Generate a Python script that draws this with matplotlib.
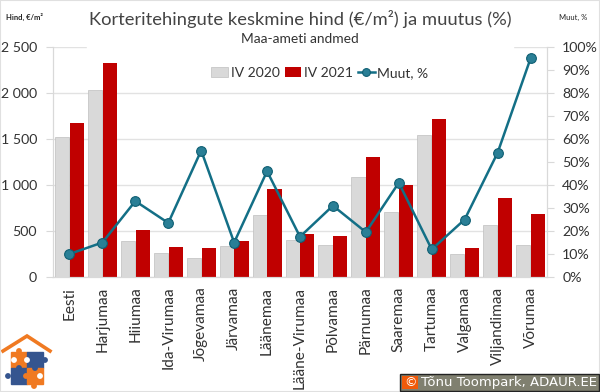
import matplotlib
matplotlib.use("Agg")
import matplotlib.pyplot as plt
import matplotlib.patches as mpatches
import numpy as np
from matplotlib.ticker import FuncFormatter

plt.rcParams['font.family'] = ['Lato', 'DejaVu Sans']

# Data
counties = ["Eesti", "Harjumaa", "Hiiumaa", "Ida-Virumaa", "Jõgevamaa", "Järvamaa", "Läänemaa",
            "Lääne-Virumaa", "Põlvamaa", "Pärnumaa", "Saaremaa", "Tartumaa", "Valgamaa",
            "Viljandimaa", "Võrumaa"]
iv_2020 = [1520, 2030, 390, 260, 210, 340, 670, 400, 350, 1090, 710, 1540, 245, 560, 350]
iv_2021 = [1670, 2330, 510, 330, 310, 390, 960, 470, 450, 1300, 1000, 1720, 310, 860, 680]
muut = [10, 15, 33, 23.5, 55, 15, 46, 17.5, 31, 19.5, 41, 12, 25, 54, 95]

W, H = 600, 392
fig = plt.figure(figsize=(W / 100, H / 100), dpi=100)
ax1 = fig.add_axes([53 / W, 1 - 277 / H, 494 / W, 230 / H])
x = np.arange(len(counties))

ax1.set_axisbelow(True)
ax1.grid(axis='y', color='#e2e2e2', lw=1)
ax1.bar(x - 0.225, iv_2020, 0.43, color='#d9d9d9', edgecolor='#bfbfbf', lw=0.5, label='IV 2020')
ax1.bar(x + 0.225, iv_2021, 0.43, color='#c00000', label='IV 2021')
ax1.set_xlim(-0.5, 14.5)
ax1.set_ylim(0, 2500)
ax1.set_yticks(range(0, 2501, 500))
ax1.yaxis.set_major_formatter(FuncFormatter(lambda v, p: f"{int(v):,}".replace(",", " ")))
ax1.set_xticks(x)
ax1.set_xticklabels(counties, rotation=90, fontsize=11.1, color='#333333')
ax1.tick_params(axis='x', length=0, pad=7)
ax1.tick_params(axis='y', length=5, color='#d9d9d9', labelsize=10.2, labelcolor='#333333', pad=6.5)

ax2 = ax1.twinx()
line, = ax2.plot(x, muut, color='#136f86', lw=1.8, marker='o', ms=7, mfc='#2a7f96', mec='#0f5f73',
                 mew=0.8, label='Muut, %')
ax2.set_ylim(0, 100)
ax2.set_yticks(range(0, 101, 10))
ax2.yaxis.set_major_formatter(FuncFormatter(lambda v, p: f"{int(v)}%"))
ax2.tick_params(axis='y', length=5, color='#d9d9d9', labelsize=10.2, labelcolor='#333333', pad=6)

for a in (ax1, ax2):
    a.spines['top'].set_visible(False)
    a.spines['left'].set_color('#d9d9d9')
    a.spines['right'].set_color('#d9d9d9')
    a.spines['bottom'].set_color('#d9d9d9')

# title area hides the top gridline
ax1.add_patch(mpatches.Rectangle((87 / W, 1 - 50 / H), 426 / W, 6 / H, transform=fig.transFigure,
                                 color='white', zorder=1.5, clip_on=False))

h1, l1 = ax1.get_legend_handles_labels()
fig.legend(h1 + [line], l1 + ['Muut, %'], loc='center', bbox_to_anchor=(320 / W, 1 - 73 / H), ncol=3,
           frameon=False, fontsize=10, labelcolor='#333333', handlelength=1.2, handletextpad=0.2,
           columnspacing=0.35, borderpad=0, markerscale=0.8)

fig.text(300 / W, 1 - 19 / H, "Korteritehingute keskmine hind (€/m²) ja muutus (%)", ha='center', va='center',
         fontsize=13.2, color='#444444')
fig.text(300 / W, 1 - 39 / H, "Maa-ameti andmed", ha='center', va='center', fontsize=9.9, color='#333333')
fig.text(6 / W, 1 - 17 / H, "Hind, €/m²", ha='left', va='center', fontsize=5.5, fontweight='bold', color='#222222')
fig.text(559 / W, 1 - 17 / H, "Muut, %", ha='left', va='center', fontsize=5.5, color='#222222')

# image border
fig.patches.append(mpatches.Rectangle((0, 0), 1, 1, transform=fig.transFigure, fc='none', ec='#e0e0e0', lw=1.5))

# copyright box
fig.patches.append(mpatches.Rectangle((399.5 / W, 1 - 391 / H), 199.5 / W, 17.5 / H, transform=fig.transFigure,
                                      fc='#808070', ec='#222222', lw=1, zorder=3))
fig.patches.append(mpatches.Rectangle((402 / W, 1 - 389 / H), 16 / W, 13 / H, transform=fig.transFigure,
                                      fc='#f05a0a', ec='none', zorder=3))
fig.text(410 / W, 1 - 382.5 / H, "©", ha='center', va='center', fontsize=9, color='white', family='DejaVu Sans',
         zorder=4)
fig.text(421 / W, 1 - 382.5 / H, "Tõnu Toompark, ADAUR.EE", ha='left', va='center', fontsize=9.5, color='white',
         family='DejaVu Sans', zorder=4)

# logo
logo = fig.add_axes([1 / W, 1 / H, 52 / W, 58 / H])
logo.set_xlim(0, 52)
logo.set_ylim(58, 0)
logo.axis('off')
orange, blue = '#f07a22', '#35558f'
logo.plot([2, 26, 49], [18, 3, 18], color=orange, lw=2.6, solid_joinstyle='miter')
logo.add_patch(mpatches.Rectangle((10, 19), 16, 16, color=orange))
logo.add_patch(mpatches.Rectangle((26, 19), 16, 16, color=blue))
logo.add_patch(mpatches.Rectangle((10, 35), 16, 16, color=blue))
logo.add_patch(mpatches.Rectangle((26, 35), 16, 16, color=orange))
for kx, ky, kc in [(18, 18, orange), (13, 27, 'white'), (26, 27, 'white'), (44, 27, blue), (18, 35, blue),
                   (34, 35, blue), (7, 43, blue), (25, 43, orange), (39, 43, 'white'), (33, 53, orange)]:
    logo.add_patch(mpatches.Circle((kx, ky), 2.2, color=kc))

fig.savefig("out.png", dpi=100)
